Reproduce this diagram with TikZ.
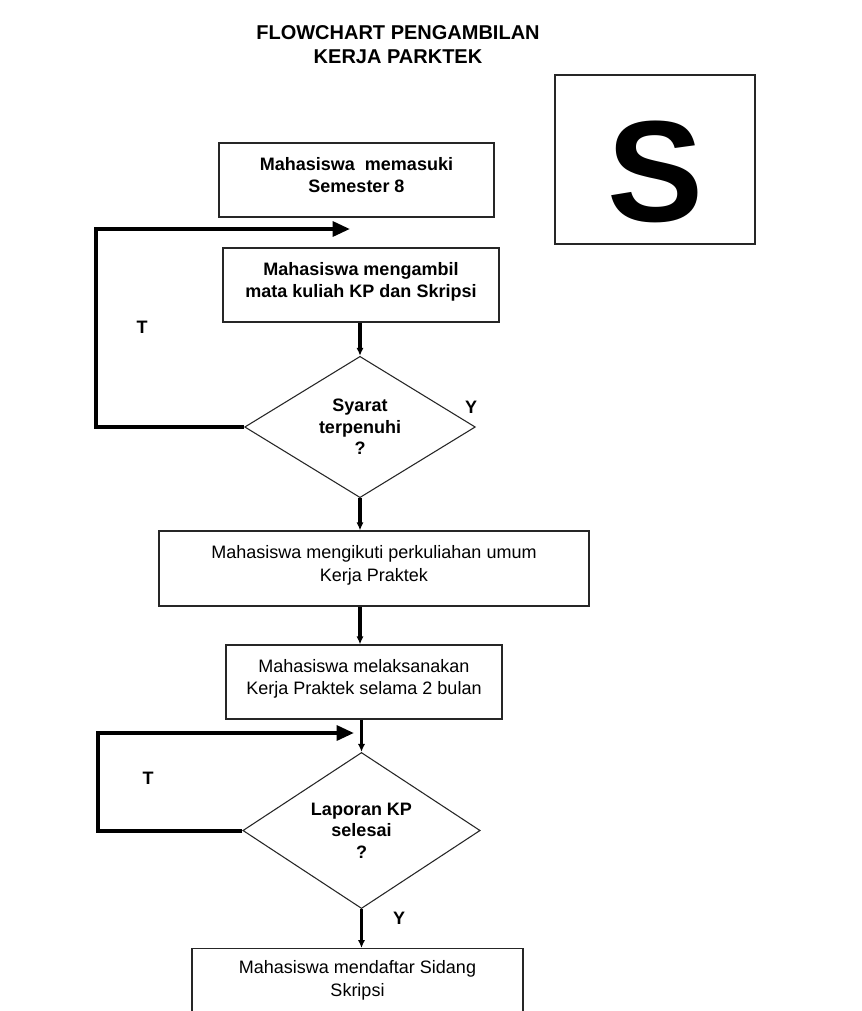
\documentclass[tikz,border=0pt]{standalone}
\usepackage{fontspec}
\setmainfont{Liberation Sans}
\usetikzlibrary{shapes.geometric,arrows.meta,calc}
\newcommand{\liftup}{\\[-9.5pt]\mbox{}}
\begin{document}
\begin{tikzpicture}[x=0.75pt,y=-0.75pt,
  boxn/.style={draw=black!85,line width=1pt,rectangle,inner sep=0pt,align=center,
    font=\fontsize{13.5pt}{17pt}\selectfont},
  boldbox/.style={boxn,font=\bfseries\fontsize{13.5pt}{17pt}\selectfont},
  dec/.style={draw=black!85,line width=0.8pt,diamond,inner sep=0pt,align=center,
    font=\bfseries\fontsize{13.5pt}{16pt}\selectfont},
  conn/.style={line width=2.8pt,-{Latex[length=6pt,width=5.5pt]}},
  loopline/.style={line width=3pt,-{Triangle[length=13pt,width=11pt]}},
  lbl/.style={font=\bfseries\fontsize{13.5pt}{16pt}\selectfont}]
\useasboundingbox[fill=white] (0,0) rectangle (861,1011);

% title
\node[align=center,font=\bfseries\fontsize{15pt}{18pt}\selectfont] (title) at (398,45)
  {FLOWCHART PENGAMBILAN\\KERJA PARKTEK};

% S box
\node[draw=black!85,line width=1.4pt,minimum width=150pt,minimum height=126.75pt,inner sep=0pt] (sbox) at (655,159.5) {};
\node[font=\bfseries\fontsize{108pt}{108pt}\selectfont,inner sep=0pt] (sletter) at (655.5,172) {S};

% boxes
\node[boldbox,minimum width=206.25pt,minimum height=55.5pt] (b1) at (356.5,180)
  {Mahasiswa\ \ memasuki\\Semester 8\liftup};
\node[boldbox,minimum width=207pt,minimum height=55.5pt] (b2) at (361,285)
  {Mahasiswa mengambil\\mata kuliah KP dan Skripsi\liftup};
\node[dec,minimum width=173pt,minimum height=106pt] (d1) at (360,427)
  {Syarat\\terpenuhi\\?};
\node[boxn,minimum width=322.5pt,minimum height=56.25pt] (b3) at (374,568.5)
  {Mahasiswa mengikuti perkuliahan umum\\Kerja Praktek\liftup};
\node[boxn,minimum width=207pt,minimum height=55.5pt] (b4) at (364,682)
  {Mahasiswa melaksanakan\\Kerja Praktek selama 2 bulan\liftup};
\node[dec,minimum width=178pt,minimum height=110pt] (d2) at (361.5,830.5)
  {Laporan KP\\selesai\\?};
\node[draw=black!85,line width=1pt,minimum width=248.25pt,minimum height=67.5pt,inner sep=0pt,anchor=north] (b5) at (357.5,948) {};
\node[align=center,font=\fontsize{13.5pt}{17pt}\selectfont] (t5) at (357.5,980)
  {Mahasiswa mendaftar Sidang\\Skripsi};

% connectors
\draw[conn] (b2.south -| d1.north) -- (d1.north);
\draw[conn] (d1.south) -- (d1.south |- b3.north);
\draw[conn] (d1.south |- b3.south) -- (d1.south |- b4.north);
\draw[conn] (d2.north |- b4.south) -- (d2.north);
\draw[conn] (d2.south) -- (d2.south |- b5.north);

% loops
\coordinate (l1end) at (350,229);
\coordinate (l2end) at (354,733);
\draw[loopline] (d1.west) -- (96,427) -- (96,229) -- (l1end);
\draw[loopline] (d2.west) -- (98,830.5) -- (98,733) -- (l2end);

% labels
\node[lbl] (t1) at (142,327) {T};
\node[lbl] (y1) at (471,407) {Y};
\node[lbl] (t2) at (148,778) {T};
\node[lbl] (y2) at (399,918) {Y};
\end{tikzpicture}
\end{document}
